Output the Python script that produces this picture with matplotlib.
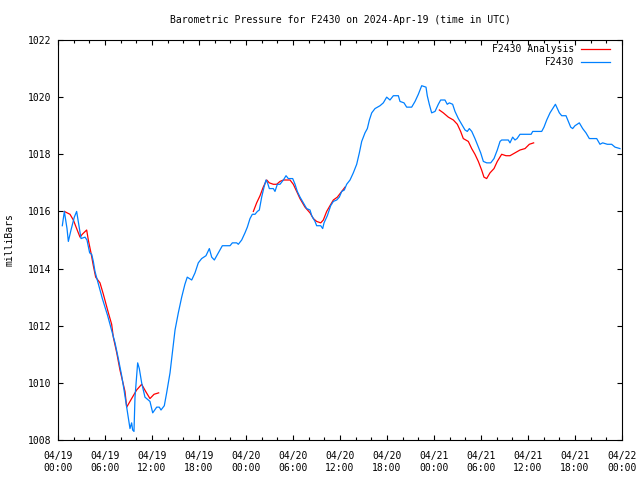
import numpy as np
import matplotlib
matplotlib.use("Agg")
import matplotlib.pyplot as plt

# hours since 2024-04-19 00:00 UTC, pressure in mb
obs_hours = [0.55, 0.81, 1.15, 1.32, 1.66, 2.08, 2.38, 2.68, 2.94, 3.45, 3.7, 4.04, 4.3, 4.51, 4.72,
             5.02, 5.36, 5.66, 6.0, 6.34, 6.64, 6.85, 7.28, 7.7, 8.13, 8.43, 8.77, 8.98, 9.19, 9.4,
             9.53, 9.7, 9.83, 10.17, 10.38, 10.68, 11.1, 11.74, 12.09, 12.6, 12.93, 13.15, 13.57,
             13.87, 14.3, 14.64, 14.94, 15.36, 15.79, 16.2, 16.5, 17.07, 17.49, 17.91, 18.34, 18.89,
             19.32, 19.62, 19.96, 20.47, 20.98, 21.96, 22.26, 22.81, 23.02, 23.45, 23.87, 24.17,
             24.51, 24.81, 25.15, 25.45, 25.7, 26.0, 26.3, 26.55, 26.75, 26.98, 27.49, 27.7, 28.0,
             28.34, 28.77, 29.11, 29.4, 29.96, 30.26, 30.55, 30.9, 31.32, 31.74, 32.17, 32.39,
             32.81, 33.02, 33.54, 33.79, 33.96, 34.38, 34.81, 35.15, 35.58, 35.91, 36.22, 36.55,
             36.85, 37.28, 37.7, 38.13, 38.47, 38.77, 39.19, 39.49, 39.75, 40.05, 40.47, 41.11,
             41.53, 41.96, 42.38, 42.81, 43.45, 43.66, 44.17, 44.51, 45.15, 45.58, 46.0, 46.43,
             46.98, 47.14, 47.4, 47.7, 48.13, 48.55, 48.85, 49.4, 49.69, 49.96, 50.38, 50.68,
             51.11, 51.53, 51.96, 52.25, 52.51, 52.82, 53.23, 53.66, 53.96, 54.3, 54.73, 55.24,
             55.66, 56.08, 56.43, 56.64, 57.49, 57.7, 58.04, 58.34, 58.6, 58.98, 60.4, 60.6,
             61.75, 62.04, 62.39, 62.81, 63.15, 63.5, 63.75, 64.0, 64.3, 64.85, 65.15, 65.45,
             65.7, 66.0, 66.55, 66.98, 67.4, 67.83, 68.77, 69.19, 69.53, 70.13, 70.68, 71.11, 71.74]
obs_mb = [1015.5, 1016.0, 1015.4, 1014.95, 1015.35, 1015.8, 1016.0, 1015.5, 1015.05, 1015.1, 1015.0,
          1014.55, 1014.5, 1014.25, 1013.9, 1013.6, 1013.25, 1012.95, 1012.65, 1012.35, 1012.05,
          1011.85, 1011.4, 1010.85, 1010.25, 1009.75, 1009.15, 1008.8, 1008.4, 1008.6, 1008.35,
          1008.3, 1009.5, 1010.7, 1010.5, 1010.0, 1009.5, 1009.35, 1008.95, 1009.15, 1009.15,
          1009.05, 1009.2, 1009.65, 1010.35, 1011.15, 1011.85, 1012.45, 1013.0, 1013.45, 1013.7,
          1013.6, 1013.85, 1014.2, 1014.35, 1014.45, 1014.7, 1014.4, 1014.3, 1014.55, 1014.8,
          1014.8, 1014.9, 1014.9, 1014.85, 1015.0, 1015.25, 1015.45, 1015.75, 1015.9, 1015.9,
          1016.0, 1016.05, 1016.5, 1016.85, 1017.1, 1017.0, 1016.8, 1016.8, 1016.7, 1016.95,
          1016.95, 1017.1, 1017.25, 1017.15, 1017.15, 1016.95, 1016.7, 1016.5, 1016.3, 1016.1,
          1016.05, 1015.85, 1015.65, 1015.5, 1015.5, 1015.4, 1015.6, 1015.85, 1016.2, 1016.35,
          1016.4, 1016.5, 1016.7, 1016.75, 1016.95, 1017.1, 1017.35, 1017.65, 1018.05, 1018.45,
          1018.75, 1018.9, 1019.2, 1019.45, 1019.6, 1019.7, 1019.8, 1020.0, 1019.9, 1020.05,
          1020.05, 1019.85, 1019.8, 1019.65, 1019.65, 1019.85, 1020.1, 1020.4, 1020.35, 1020.05,
          1019.75, 1019.45, 1019.5, 1019.75, 1019.9, 1019.9, 1019.75, 1019.8, 1019.75, 1019.5,
          1019.25, 1019.05, 1018.85, 1018.8, 1018.9, 1018.8, 1018.55, 1018.25, 1018.05, 1017.75,
          1017.7, 1017.7, 1017.85, 1018.15, 1018.45, 1018.5, 1018.5, 1018.4, 1018.6, 1018.5,
          1018.55, 1018.7, 1018.7, 1018.8, 1018.8, 1018.95, 1019.2, 1019.45, 1019.6, 1019.75,
          1019.6, 1019.45, 1019.35, 1019.35, 1019.15, 1018.95, 1018.9, 1019.0, 1019.1, 1018.9,
          1018.75, 1018.55, 1018.55, 1018.35, 1018.4, 1018.35, 1018.35, 1018.25, 1018.2]

# analysis comes in three separate runs
ana1_hours = [0.81, 1.53, 1.96, 2.38, 2.81, 3.1, 3.66, 3.87, 4.21, 4.51, 4.81, 5.36, 5.79, 6.43,
              6.85, 7.06, 7.5, 7.91, 8.55, 8.77, 9.4, 10.04, 10.68, 11.19, 11.74, 12.26, 12.85]
ana1_mb = [1016.0, 1015.9, 1015.7, 1015.4, 1015.1, 1015.2, 1015.35, 1015.0, 1014.55, 1014.1,
           1013.7, 1013.5, 1013.1, 1012.45, 1012.05, 1011.6, 1011.05, 1010.45, 1009.7, 1009.15,
           1009.45, 1009.75, 1009.95, 1009.7, 1009.45, 1009.6, 1009.65]
ana2_hours = [24.94, 25.36, 25.79, 26.2, 26.64, 26.98, 27.49, 27.92, 28.34, 28.77, 29.62, 30.04,
              30.47, 30.89, 31.53, 32.17, 32.6, 33.02, 33.54, 33.87, 34.3, 34.72, 35.15, 35.66,
              36.22, 36.64]
ana2_mb = [1016.0, 1016.3, 1016.55, 1016.85, 1017.1, 1017.0, 1016.95, 1016.95, 1017.05, 1017.1,
           1017.1, 1016.95, 1016.7, 1016.45, 1016.15, 1015.95, 1015.75, 1015.65, 1015.6, 1015.7,
           1016.0, 1016.2, 1016.4, 1016.5, 1016.7, 1016.85]
ana3_hours = [48.68, 49.19, 49.83, 50.47, 50.98, 51.4, 51.74, 52.38, 52.81, 53.23, 53.66, 54.08,
              54.38, 54.72, 55.15, 55.66, 56.08, 56.64, 57.19, 57.7, 58.34, 58.98, 59.62, 60.17,
              60.72]
ana3_mb = [1019.55, 1019.45, 1019.3, 1019.2, 1019.05, 1018.8, 1018.55, 1018.45, 1018.2, 1018.0,
           1017.75, 1017.45, 1017.2, 1017.15, 1017.35, 1017.5, 1017.75, 1018.0, 1017.95, 1017.95,
           1018.05, 1018.15, 1018.2, 1018.35, 1018.4]

tick_hours = list(range(0, 73, 6))
tick_labels = ["04/19\n00:00", "04/19\n06:00", "04/19\n12:00", "04/19\n18:00",
               "04/20\n00:00", "04/20\n06:00", "04/20\n12:00", "04/20\n18:00",
               "04/21\n00:00", "04/21\n06:00", "04/21\n12:00", "04/21\n18:00",
               "04/22\n00:00"]

plt.rcParams['font.family'] = ['DejaVu Sans Mono']
plt.rcParams['font.size'] = 7

fig = plt.figure(figsize=(6.4, 4.8), dpi=100)
ax = fig.add_axes([58 / 640, 40 / 480, 564 / 640, 400 / 480])

red = '#ff0000'
blue = '#0080ff'
ax.plot(ana1_hours, ana1_mb, color=red, lw=0.9, label='F2430 Analysis')
ax.plot(ana2_hours, ana2_mb, color=red, lw=0.9)
ax.plot(ana3_hours, ana3_mb, color=red, lw=0.9)
ax.plot(obs_hours, obs_mb, color=blue, lw=0.9, label='F2430')

ax.set_xlim(0, 72)
ax.set_ylim(1008, 1022)
ax.set_xticks(tick_hours)
ax.set_xticklabels(tick_labels)
ax.set_xticks(range(0, 73, 2), minor=True)
ax.set_yticks(range(1008, 1023, 2))

ax.tick_params(which='both', direction='in', top=True, right=True, width=0.8)
ax.tick_params(which='major', length=3.5)
ax.tick_params(which='minor', length=2)
ax.tick_params(axis='x', pad=8)
ax.tick_params(axis='y', pad=5)
for s in ax.spines.values():
    s.set_linewidth(0.8)

ax.legend(loc='upper right', bbox_to_anchor=(0.979, 0.99), frameon=False, markerfirst=False,
          borderpad=0, borderaxespad=0, handlelength=3.0, handletextpad=0.7, labelspacing=0.35)

fig.text(340 / 640, 1 - 20 / 480, "Barometric Pressure for F2430 on 2024-Apr-19 (time in UTC)",
         ha='center', va='center')
fig.text(10 / 640, 0.5, "milliBars", rotation=90, ha='center', va='center')

fig.savefig("out.png", dpi=100)
